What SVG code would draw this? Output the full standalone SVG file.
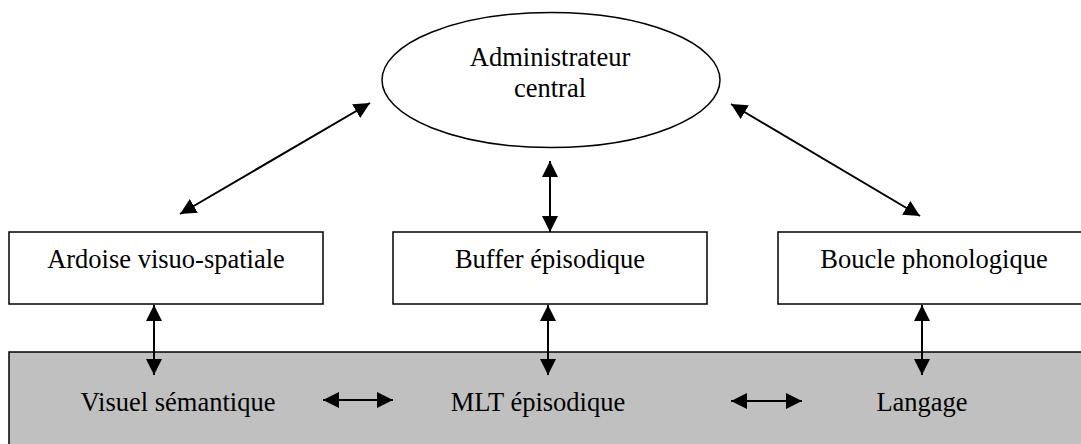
<svg xmlns="http://www.w3.org/2000/svg" width="1081" height="444" viewBox="0 0 1081 444">
<style>
.box{fill:#fff;stroke:#000;stroke-width:1.5}
.mem{fill:#c0c0c0;stroke:#000;stroke-width:1.5}
.t{font-family:"Liberation Serif","Times New Roman",serif;font-size:26.5px;fill:#000;text-anchor:middle}
.c{stroke:#000;stroke-width:2;fill:none;marker-start:url(#ah);marker-end:url(#ah)}
</style>
<defs>
<marker id="ah" markerUnits="userSpaceOnUse" markerWidth="17" markerHeight="17" refX="16" refY="8" orient="auto-start-reverse" viewBox="0 0 17 17">
<path d="M0,0 L16,8 L0,16 z" fill="#000"/>
</marker>
</defs>
<g id="memoire">
<rect class="mem" x="9" y="352" width="1090" height="110"/>
<text class="t" x="178" y="411">Visuel sémantique</text>
<text class="t" x="538" y="411">MLT épisodique</text>
<text class="t" x="922" y="411">Langage</text>
</g>
<g id="admin">
<ellipse class="box" cx="551" cy="80" rx="169" ry="67.5"/>
<text class="t" x="550" y="66">Administrateur</text>
<text class="t" x="550" y="97">central</text>
</g>
<g id="ardoise">
<rect class="box" x="9" y="232" width="314" height="72"/>
<text class="t" x="166" y="268">Ardoise visuo-spatiale</text>
</g>
<g id="buffer">
<rect class="box" x="393" y="232" width="314" height="72"/>
<text class="t" x="550" y="268">Buffer épisodique</text>
</g>
<g id="boucle">
<rect class="box" x="778" y="232" width="320" height="72"/>
<text class="t" x="934" y="268">Boucle phonologique</text>
</g>
<g id="connectors">
<line class="c" x1="370" y1="103" x2="180" y2="214"/>
<line class="c" x1="731" y1="104" x2="920" y2="216"/>
<line class="c" x1="550" y1="161" x2="550" y2="232"/>
<line class="c" x1="154" y1="305" x2="154" y2="375"/>
<line class="c" x1="548" y1="305" x2="548" y2="375"/>
<line class="c" x1="922" y1="305" x2="922" y2="375"/>
<line class="c" x1="323" y1="400" x2="393" y2="400"/>
<line class="c" x1="731" y1="401" x2="802" y2="401"/>
</g>
</svg>
